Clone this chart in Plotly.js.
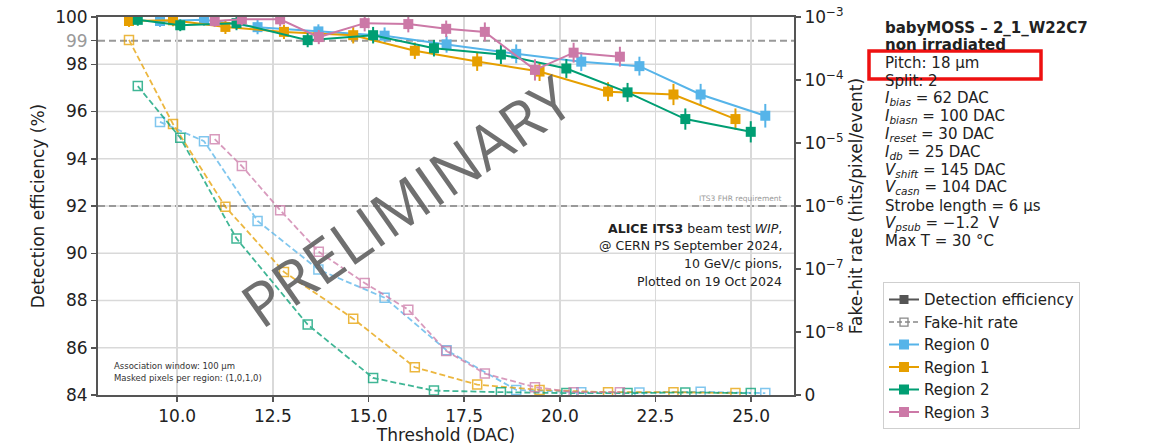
<!DOCTYPE html>
<html>
<head>
<meta charset="utf-8">
<script src="https://cdn.plot.ly/plotly-3.0.1.min.js"></script>
<style>html,body{margin:0;padding:0;background:#fff}#chart{width:1173px;height:445px}</style>
</head>
<body>
<div id="chart"></div>
<script>
// ---------------- data ----------------
const regionNames = ["Region 0", "Region 1", "Region 2", "Region 3"];
const regionColors = ["#56B4E9", "#E69F00", "#009E73", "#CC79A7"];

const thr0 = [9.55, 10.70, 12.10, 13.69, 15.42, 17.04, 18.86, 20.56, 22.08, 23.68, 25.37];
const eff0 = [99.83, 99.88, 99.57, 99.39, 99.21, 98.84, 98.44, 98.11, 97.92, 96.72, 95.82];
const effErr0 = [0.25, 0.25, 0.3, 0.3, 0.35, 0.35, 0.4, 0.4, 0.4, 0.45, 0.5];
const fhr0 = [2.16e-5, 1.07e-5, 5.8e-7, 9.8e-8, 3.5e-8, 7.1e-9, 8e-10, 4.5e-10, 4e-10, 5e-10, 3e-10];

const thr1 = [8.74, 9.89, 11.26, 12.79, 14.60, 16.21, 17.84, 19.47, 21.26, 22.97, 24.59];
const eff1 = [99.83, 99.86, 99.58, 99.37, 99.23, 98.57, 98.12, 97.69, 96.84, 96.72, 95.68];
const effErr1 = [0.25, 0.25, 0.3, 0.3, 0.35, 0.35, 0.4, 0.4, 0.4, 0.45, 0.45];
const fhr1 = [4.33e-4, 2.0e-5, 9.7e-7, 9.0e-8, 1.63e-8, 4.4e-9, 1.65e-9, 8e-10, 4.5e-10, 4.5e-10, 3e-10];

const thr2 = [8.97, 10.08, 11.55, 13.41, 15.12, 16.71, 18.46, 20.17, 21.77, 23.28, 24.99];
const eff2 = [99.88, 99.65, 99.74, 99.02, 99.23, 98.68, 98.41, 97.82, 96.81, 95.68, 95.14];
const effErr2 = [0.25, 0.25, 0.3, 0.3, 0.35, 0.35, 0.4, 0.4, 0.4, 0.45, 0.45];
const fhr2 = [8.0e-5, 1.21e-5, 3.04e-7, 1.31e-8, 2.7e-9, 7e-10, 4.5e-10, 3e-10, 3e-10, 4e-10, 3e-10];

const thr3 = [10.98, 11.69, 12.69, 13.70, 14.90, 16.04, 17.03, 18.04, 19.35, 20.36, 21.57];
const eff3 = [99.83, 99.90, 99.90, 99.15, 99.74, 99.70, 99.50, 99.37, 97.76, 98.49, 98.32];
const effErr3 = [0.25, 0.25, 0.3, 0.3, 0.35, 0.35, 0.35, 0.4, 0.45, 0.42, 0.42];
const fhr3 = [1.15e-5, 4.3e-6, 8.6e-7, 1.87e-7, 6.0e-8, 2.26e-8, 7.0e-9, 3.4e-9, 1.25e-9, 4.5e-10, 4.5e-10];

const xTickVals = [10, 12.5, 15, 17.5, 20, 22.5, 25];
const effTickVals = [84, 86, 88, 90, 92, 94, 96, 98, 99, 100];
const effGridVals = [86, 88, 90, 92, 94, 96, 98];
const fhrTickVals = [0, 1e-8, 1e-7, 1e-6, 1e-5, 1e-4, 1e-3];
const fhrTickText = ["0", "10<sup>−8</sup>", "10<sup>−7</sup>", "10<sup>−6</sup>", "10<sup>−5</sup>", "10<sup>−4</sup>", "10<sup>−3</sup>"];
const effRequirement = 99;   // dashed line
const fhrRequirement = 1e-6; // dashed line (ITS3 FHR requirement)

const infoLines = [
  "<b>babyMOSS – 2_1_W22C7</b>",
  "<b>non irradiated</b>",
  "Pitch: 18 µm",
  "Split: 2",
  "<i>I</i><sub><i>bias</i></sub> = 62 DAC",
  "<i>I</i><sub><i>biasn</i></sub> = 100 DAC",
  "<i>I</i><sub><i>reset</i></sub> = 30 DAC",
  "<i>I</i><sub><i>db</i></sub> = 25 DAC",
  "<i>V</i><sub><i>shift</i></sub> = 145 DAC",
  "<i>V</i><sub><i>casn</i></sub> = 104 DAC",
  "Strobe length = 6 µs",
  "<i>V</i><sub><i>psub</i></sub> = −1.2  V",
  "Max T = 30 °C"
];
const beamLines = [
  "<b>ALICE ITS3</b> beam test <i>WIP</i>,",
  "@ CERN PS September 2024,",
  "10 GeV/c pions,",
  "Plotted on 19 Oct 2024"
];
const cornerLines = ["Association window: 100 µm", "Masked pixels per region: (1,0,1,0)"];

// ---------------- helpers ----------------
// symlog mapping (linear below 1e-8, log above) onto the secondary linear axis
const LIN = 1e-8;
function symlog(v) { return v >= LIN ? Math.log10(v) : Math.log10(LIN) - 1 + v / LIN; }

const thrs = [thr0, thr1, thr2, thr3];
const effs = [eff0, eff1, eff2, eff3];
const errs = [effErr0, effErr1, effErr2, effErr3];
const fhrs = [fhr0, fhr1, fhr2, fhr3];

const W = 1173, H = 445, L = 98, R = 794, T = 17, B = 394.6;
const px = p => (p - L) / (R - L);
const py = p => (B - p) / (B - T);

const FONT = "DejaVu Sans, sans-serif";
const traces = [];

// legend-only entries
traces.push({x: [null], y: [null], type: "scatter", mode: "lines+markers", name: "Detection efficiency",
  line: {color: "#555", width: 2}, marker: {symbol: "square", size: 9, color: "#555"}});
traces.push({x: [null], y: [null], type: "scatter", mode: "lines+markers", name: "Fake-hit rate",
  line: {color: "#888", width: 1.5, dash: "5px,3px"}, marker: {symbol: "square-open", size: 8, color: "#888", line: {width: 1.3}}});

// fake-hit traces
for (let i = 0; i < 4; i++) {
  traces.push({
    x: thrs[i], y: fhrs[i].map(symlog), yaxis: "y2", type: "scatter", mode: "lines+markers",
    showlegend: false, opacity: 0.75,
    line: {color: regionColors[i], width: 1.8, dash: "6px,3px"},
    marker: {symbol: "square-open", size: 9, color: regionColors[i], line: {width: 1.5}},
    hoverinfo: "skip"
  });
}
// efficiency traces
for (let i = 0; i < 4; i++) {
  traces.push({
    x: thrs[i], y: effs[i], yaxis: "y", type: "scatter", mode: "lines+markers",
    name: regionNames[i],
    line: {color: regionColors[i], width: 2},
    marker: {symbol: "square", size: 10, color: regionColors[i]},
    error_y: {type: "data", array: errs[i], visible: true, color: regionColors[i], thickness: 2, width: 0}
  });
}

const annotations = [];
infoLines.forEach((t, k) => {
  annotations.push({xref: "paper", yref: "paper", x: px(883), y: py(27.5 + k * 17.8), xanchor: "left", yanchor: "middle",
    text: t, showarrow: false, font: {family: FONT, size: 15, color: "#222"}});
});
beamLines.forEach((t, k) => {
  annotations.push({xref: "paper", yref: "paper", x: px(784), y: py(228 + k * 17.7), xanchor: "right", yanchor: "middle",
    text: t, showarrow: false, font: {family: FONT, size: 12.5, color: "#222"}});
});
cornerLines.forEach((t, k) => {
  annotations.push({xref: "paper", yref: "paper", x: px(112), y: py(366 + k * 12), xanchor: "left", yanchor: "middle",
    text: t, showarrow: false, font: {family: FONT, size: 8.5, color: "#333"}});
});
annotations.push({xref: "paper", yref: "paper", x: px(784), y: py(198), xanchor: "right", yanchor: "middle",
  text: "ITS3 FHR requirement", showarrow: false, font: {family: FONT, size: 7.5, color: "#999"}});
annotations.push({xref: "paper", yref: "paper", x: px(406), y: py(200), xanchor: "center", yanchor: "middle",
  text: "PRELIMINARY", textangle: -35, showarrow: false,
  font: {family: "Open Sans, Liberation Sans, sans-serif", size: 61, color: "rgba(100,100,100,0.92)"}});

const shapes = [];
// light gridlines (not at 99 / 100, where only the dashed requirement line / frame appear)
effGridVals.forEach(v => shapes.push({type: "line", xref: "paper", yref: "y", x0: 0, x1: 1, y0: v, y1: v,
  line: {color: "#d9d9d9", width: 1.5}, layer: "below"}));
shapes.push({type: "line", xref: "paper", yref: "y", x0: 0, x1: 1, y0: effRequirement, y1: effRequirement,
  line: {color: "#999", width: 2, dash: "7px,4px"}, layer: "below"});
shapes.push({type: "line", xref: "paper", yref: "y2", x0: 0, x1: 1, y0: symlog(fhrRequirement), y1: symlog(fhrRequirement),
  line: {color: "#999", width: 2, dash: "7px,4px"}, layer: "below"});
shapes.push({type: "rect", xref: "paper", yref: "paper", x0: px(869), x1: px(1041), y0: py(51), y1: py(79),
  line: {color: "#ee1111", width: 3.5}, fillcolor: "rgba(0,0,0,0)"});

const axisCommon = {showline: true, linecolor: "#555", linewidth: 2, ticks: "outside", ticklen: 5, tickwidth: 1.5,
  tickcolor: "#555", tickfont: {family: FONT, size: 17, color: "#222"}, zeroline: false};

const layout = {
  width: W, height: H,
  margin: {l: L, r: W - R, t: T, b: H - B},
  paper_bgcolor: "#fff", plot_bgcolor: "#fff",
  font: {family: FONT, color: "#222"},
  xaxis: Object.assign({}, axisCommon, {
    range: [7.93, 26.12], tickvals: xTickVals, ticktext: xTickVals.map(v => v.toFixed(1)),
    showgrid: true, gridcolor: "#d9d9d9", gridwidth: 1.5, mirror: true,
    title: {text: "Threshold (DAC)", font: {family: FONT, size: 17, color: "#222"}, standoff: 2}
  }),
  yaxis: Object.assign({}, axisCommon, {
    range: [84, 100], tickvals: effTickVals,
    ticktext: effTickVals.map(v => v === 99 ? '<span style="color:#9a9a9a">99</span>' : String(v)),
    showgrid: false, mirror: false,
    title: {text: "Detection efficiency (%)", font: {family: FONT, size: 17, color: "#222"}, standoff: 6}
  }),
  yaxis2: Object.assign({}, axisCommon, {
    overlaying: "y", side: "right", range: [symlog(0), symlog(1e-3)],
    tickvals: fhrTickVals.map(symlog), ticktext: fhrTickText, showgrid: false,
    title: {text: "Fake-hit rate (hits/pixel/event)", font: {family: FONT, size: 17, color: "#222"}, standoff: 8}
  }),
  showlegend: true,
  legend: {x: px(883), y: py(282), xanchor: "left", yanchor: "top", bgcolor: "#fff",
    bordercolor: "#cfcfcf", borderwidth: 1, font: {family: FONT, size: 15, color: "#222"},
    traceorder: "normal", itemwidth: 30},
  annotations: annotations,
  shapes: shapes
};

Plotly.newPlot("chart", traces, layout, {displayModeBar: false, staticPlot: true});
</script>
</body>
</html>
